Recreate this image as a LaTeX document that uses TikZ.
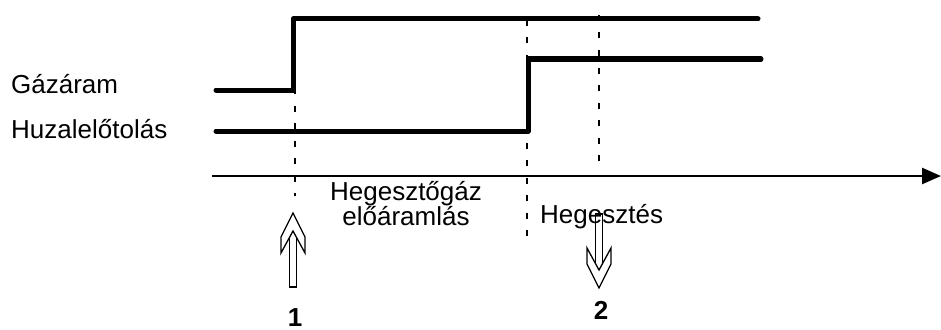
\documentclass[tikz,border=0pt]{standalone}
\usepackage{fontspec}
\setmainfont{Liberation Sans}
\usetikzlibrary{arrows.meta}
\begin{document}
\begin{tikzpicture}[x=1pt,y=-1pt,
  signal/.style={line width=5pt,line cap=round,line join=round},
  timeaxis/.style={line width=2.5pt,-{Triangle[length=19pt,width=16pt]}},
  marker/.style={line width=2pt,dash pattern=on 6pt off 11.5pt},
  label/.style={inner sep=0pt,font=\fontsize{26}{25}\selectfont},
  num/.style={inner sep=0pt,font=\fontsize{26}{25}\selectfont\bfseries},
  hollowarrow/.pic={
    \draw[line width=1.3pt,line join=miter]
      (0,0) -- (-12,24) -- (-12,40) -- (0,18) -- (12,40) -- (12,24) -- cycle;
    \draw[line width=1.3pt,line join=miter]
      (-3.4,24.5) -- (-3.4,74) -- (3.4,74) -- (3.4,24.5);
  }]
\useasboundingbox (0,0) rectangle (941,329);

% time axis
\coordinate (t0) at (212,176);
\coordinate (t1) at (941,176);
\draw[timeaxis] (t0) -- (t1);

% event markers
\coordinate (m1top) at (295,18);  \coordinate (m1bot) at (295,196);
\coordinate (m2top) at (527,20);  \coordinate (m2bot) at (527,242);
\coordinate (m3top) at (599,15);  \coordinate (m3bot) at (599,172);
\draw[marker] (m1top) -- (m1bot);
\draw[marker] (m2top) -- (m2bot);
\draw[marker] (m3top) -- (m3bot);

% signal traces
\draw[signal] (216,90) -- (293,90) -- (293,19) -- (758,19);
\draw[signal] (216,131) -- (528,131) -- (528,59) -- (761,59);

% signal names
\node[label,anchor=base west] (gas) at (11,93) {Gázáram};
\node[label,anchor=base west] (wire) at (11,138) {Huzalelőtolás};

% phase names
\node[label,anchor=base,align=center] (pre) at (406,225) {Hegesztőgáz\\előáramlás};
\node[label,anchor=base west] (weld) at (540,223) {Hegesztés};

% start / stop arrows
\pic at (293,213) {hollowarrow};
\pic[rotate=180] at (599,288) {hollowarrow};
\node[num,anchor=base] (n1) at (295,326) {1};
\node[num,anchor=base] (n2) at (601,319) {2};
\end{tikzpicture}
\end{document}
